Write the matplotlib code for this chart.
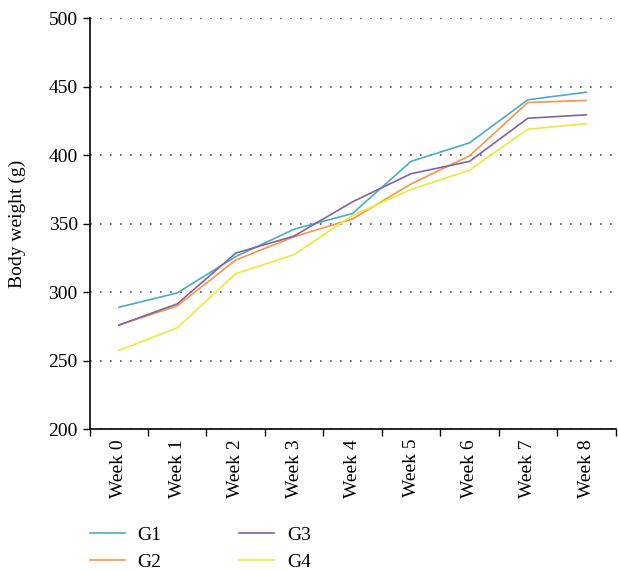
import matplotlib.pyplot as plt

plt.rcParams['font.family'] = ['Liberation Serif', 'DejaVu Serif']

weeks = ['Week 0', 'Week 1', 'Week 2', 'Week 3', 'Week 4', 'Week 5', 'Week 6', 'Week 7', 'Week 8']
g1 = [289, 299.5, 326, 346, 357.5, 395.5, 409, 440.5, 446]
g2 = [276, 290, 323.5, 340.5, 353.5, 379, 399.5, 438.5, 440]
g3 = [276, 291.5, 328.5, 341, 366, 386.5, 395.5, 427, 429.5]
g4 = [257.5, 274, 313.5, 327.5, 356, 375, 389, 419, 423]

names = ['G1', 'G2', 'G3', 'G4']
colors = ['#4bacc6', '#f79646', '#8064a2', '#eee83a']

fig = plt.figure(figsize=(6.18, 5.70), dpi=100)
ax = fig.add_axes([0.145, 0.247, 0.851, 0.721])

x = range(len(weeks))
for vals, name, c in zip([g1, g2, g3, g4], names, colors):
    ax.plot(x, vals, color=c, lw=1.2, label=name)

ax.set_xlim(-0.5, len(weeks) - 0.5)
ax.set_ylim(200, 500)
ax.set_yticks(range(200, 501, 50))
ax.set_xticks(list(x))
ax.set_xticklabels(weeks, rotation=90, fontsize=14)
ax.set_xticks([i - 0.5 for i in range(len(weeks) + 1)], minor=True)
ax.tick_params(axis='x', which='major', length=0, pad=7)
ax.tick_params(axis='x', which='minor', length=5, direction='out', width=1)
ax.tick_params(axis='y', length=5, direction='out', labelsize=14, width=1)
ax.set_ylabel('Body weight (g)', fontsize=14)
ax.yaxis.set_label_coords(-0.12, 0.5)

for s in ['top', 'right']:
    ax.spines[s].set_visible(False)
ax.spines['left'].set_linewidth(1.2)
ax.spines['bottom'].set_linewidth(1.2)

ax.yaxis.grid(True, linestyle=(0, (1, 5)), color='#555555', lw=1.2)
ax.set_axisbelow(True)

fig.legend(loc='upper left', bbox_to_anchor=(0.145, 0.077), ncol=2, frameon=False,
           fontsize=14, handlelength=1.8, columnspacing=4.0, labelspacing=0.5,
           handletextpad=0.67, borderaxespad=0, borderpad=0)

plt.savefig('out.png', dpi=100)
